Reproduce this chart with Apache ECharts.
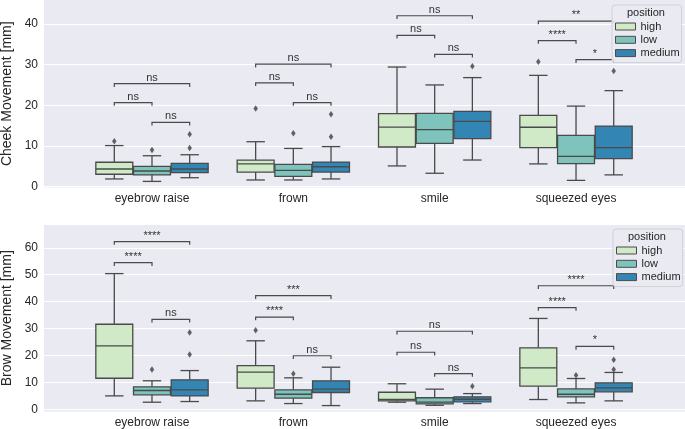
<!DOCTYPE html>
<html><head><meta charset="utf-8">
<script src="https://cdn.jsdelivr.net/npm/echarts/dist/echarts.min.js"></script>
<style>html,body{margin:0;padding:0;background:#fff}#c{width:685px;height:429px}</style>
</head><body><div id="c"></div>
<script>
// ---------------- data ----------------
const categories = ['eyebrow raise', 'frown', 'smile', 'squeezed eyes'];
const hues = ['high', 'low', 'medium'];
const cheekTicks = [0, 10, 20, 30, 40];
const browTicks = [0, 10, 20, 30, 40, 50, 60];

// per category: [lower whisker, Q1, median, Q3, upper whisker]
const cheekHigh   = [[1.9, 3.05, 4.35, 6.0, 10.1], [1.65, 3.6, 5.6, 6.55, 11.05], [5.1, 9.75, 14.65, 17.95, 29.4], [5.6, 9.6, 14.6, 17.5, 27.35]];
const cheekLow    = [[1.3, 2.9, 3.85, 5.0, 7.6], [1.65, 2.55, 4.0, 5.5, 9.4], [3.3, 10.65, 14.0, 18.0, 25.0], [1.55, 5.65, 7.45, 12.6, 19.8]];
const cheekMedium = [[2.2, 3.45, 4.35, 5.75, 7.85], [1.9, 3.6, 4.9, 6.05, 9.85], [6.55, 11.8, 16.05, 18.5, 26.8], [2.9, 6.9, 9.6, 14.9, 23.6]];
// outliers: [category index, value]
const cheekHighOut   = [[0, 11.15], [1, 19.2], [3, 30.7]];
const cheekLowOut    = [[0, 9.0], [1, 13.1]];
const cheekMediumOut = [[0, 12.9], [0, 9.5], [1, 17.8], [1, 12.3], [2, 29.6], [3, 28.4]];

const browHigh   = [[5.0, 11.55, 23.6, 31.6, 50.4], [3.15, 7.85, 13.8, 16.2, 25.45], [2.65, 3.15, 3.65, 6.35, 9.5], [3.65, 8.6, 15.4, 22.85, 33.75]];
const browLow    = [[2.65, 5.4, 7.0, 8.35, 10.6], [2.15, 4.15, 5.6, 7.25, 11.7], [1.5, 2.05, 2.65, 4.3, 7.5], [2.4, 4.65, 5.6, 7.6, 11.45]];
const browMedium = [[2.9, 5.0, 7.25, 10.95, 14.4], [1.4, 6.25, 7.5, 10.6, 15.65], [2.15, 2.8, 3.75, 4.65, 5.85], [3.15, 6.5, 8.0, 9.85, 13.7]];
const browHighOut   = [[1, 29.4]];
const browLowOut    = [[0, 14.8], [1, 13.2], [3, 12.7]];
const browMediumOut = [[0, 28.55], [0, 20.4], [2, 8.6], [3, 18.4], [3, 14.8]];

// significance brackets: [category, hue A, hue B, level, label]
const cheekBrackets = [
  [0, 0, 1, 20.65, 'ns'], [0, 1, 2, 15.8, 'ns'], [0, 0, 2, 25.3, 'ns'],
  [1, 0, 1, 25.5, 'ns'], [1, 1, 2, 20.65, 'ns'], [1, 0, 2, 30.1, 'ns'],
  [2, 0, 1, 37.2, 'ns'], [2, 1, 2, 32.5, 'ns'], [2, 0, 2, 42.0, 'ns'],
  [3, 0, 1, 35.9, '****'], [3, 1, 2, 31.2, '*'], [3, 0, 2, 40.7, '**']
];
const browBrackets = [
  [0, 0, 1, 54.45, '****'], [0, 1, 2, 33.4, 'ns'], [0, 0, 2, 62.3, '****'],
  [1, 0, 1, 34.25, '****'], [1, 1, 2, 19.9, 'ns'], [1, 0, 2, 42.2, '***'],
  [2, 0, 1, 21.2, 'ns'], [2, 1, 2, 13.3, 'ns'], [2, 0, 2, 29.0, 'ns'],
  [3, 0, 1, 37.8, '****'], [3, 1, 2, 23.35, '*'], [3, 0, 2, 45.9, '****']
];

// ---------------- style ----------------
const FONT = 'Liberation Sans, Arial, sans-serif';
const hueColors = ['#d0e9c7', '#7ec4bd', '#3386b3'];
const LINE = '#4a4a4a';
const LW = 1.3;
const BG = '#eaeaf2';
const TXT = '#262626';
const HUE_W = 0.8 / 3;
const TICK = 3.2;

function boxRender(h) {
  return function (params, api) {
    const x = api.value(0) + (h - 1) * HUE_W;
    const lo = api.coord([x, api.value(1)]);
    const q1 = api.coord([x, api.value(2)]);
    const md = api.coord([x, api.value(3)]);
    const q3 = api.coord([x, api.value(4)]);
    const hi = api.coord([x, api.value(5)]);
    const w = api.size([HUE_W * 0.98, 0])[0];
    const cx = lo[0];
    const ls = { stroke: LINE, lineWidth: LW };
    return {
      type: 'group', children: [
        { type: 'line', shape: { x1: cx, y1: q1[1], x2: cx, y2: lo[1] }, style: ls },
        { type: 'line', shape: { x1: cx, y1: q3[1], x2: cx, y2: hi[1] }, style: ls },
        { type: 'line', shape: { x1: cx - w / 4, y1: lo[1], x2: cx + w / 4, y2: lo[1] }, style: ls },
        { type: 'line', shape: { x1: cx - w / 4, y1: hi[1], x2: cx + w / 4, y2: hi[1] }, style: ls },
        { type: 'rect', shape: { x: cx - w / 2, y: q3[1], width: w, height: q1[1] - q3[1] }, style: { fill: hueColors[h], stroke: LINE, lineWidth: LW } },
        { type: 'line', shape: { x1: cx - w / 2, y1: md[1], x2: cx + w / 2, y2: md[1] }, style: ls }
      ]
    };
  };
}

function bracketRender(list) {
  return function (params, api) {
    const b = list[params.dataIndex];
    const pa = api.coord([b[0] + (b[1] - 1) * HUE_W, b[3]]);
    const pb = api.coord([b[0] + (b[2] - 1) * HUE_W, b[3]]);
    return {
      type: 'group', children: [
        { type: 'polyline', shape: { points: [[pa[0], pa[1] + TICK], [pa[0], pa[1]], [pb[0], pb[1]], [pb[0], pb[1] + TICK]] }, style: { stroke: LINE, lineWidth: 1.2, fill: null } },
        { type: 'text', x: (pa[0] + pb[0]) / 2, y: pa[1] - 0.5, style: { text: b[4], fill: '#333', font: '11px ' + FONT, textAlign: 'center', textVerticalAlign: 'bottom' } }
      ]
    };
  };
}

const panels = [
  { stats: [cheekHigh, cheekLow, cheekMedium], outs: [cheekHighOut, cheekLowOut, cheekMediumOut], brackets: cheekBrackets },
  { stats: [browHigh, browLow, browMedium], outs: [browHighOut, browLowOut, browMediumOut], brackets: browBrackets }
];

const series = [];
panels.forEach((p, pi) => {
  hues.forEach((name, h) => {
    series.push({
      type: 'custom', name: name, xAxisIndex: pi, yAxisIndex: pi, z: 3,
      itemStyle: { color: hueColors[h] },
      renderItem: boxRender(h),
      encode: { x: 0, y: [1, 2, 3, 4, 5] },
      data: p.stats[h].map((s, i) => [i].concat(s))
    });
    series.push({
      type: 'scatter', name: name + ' outliers', xAxisIndex: pi, yAxisIndex: pi, z: 4,
      symbol: 'diamond', symbolSize: [4.5, 6.5],
      itemStyle: { color: '#3d3d3d' },
      data: p.outs[h].map(o => [o[0] + (h - 1) * HUE_W, o[1]])
    });
  });
  series.push({
    type: 'custom', name: 'brackets' + pi, xAxisIndex: pi, yAxisIndex: pi, z: 3,
    renderItem: bracketRender(p.brackets),
    encode: { x: 0, y: 3 },
    data: p.brackets.map(b => [b[0], b[1], b[2], b[3]])
  });
});

const XMIN = -0.764, XMAX = 3.771;
function xAxisFor(gi) {
  return {
    gridIndex: gi, type: 'value', min: XMIN, max: XMAX,
    axisLine: { show: false }, axisTick: { show: false, customValues: [0, 1, 2, 3] }, splitLine: { show: false },
    axisLabel: { customValues: [0, 1, 2, 3], formatter: v => categories[Math.round(v)], fontSize: 12, color: TXT, fontFamily: FONT, margin: 5 }
  };
}
function yAxisFor(gi, min, max, ticks, name) {
  return {
    gridIndex: gi, type: 'value', min: min, max: max,
    name: name, nameLocation: 'middle', nameGap: 22,
    nameTextStyle: { fontSize: 14, color: TXT, fontFamily: FONT },
    axisLine: { show: false }, axisTick: { show: false, customValues: ticks },
    axisLabel: { customValues: ticks, fontSize: 12, color: TXT, fontFamily: FONT, margin: 6 },
    splitLine: { show: true, lineStyle: { color: '#ffffff', width: 1.2 } }
  };
}
function legendFor(top, left) {
  return {
    orient: 'vertical', left: left, top: top, z: 20,
    data: hues.map((n, h) => ({ name: n, icon: 'rect', itemStyle: { color: hueColors[h], borderColor: LINE, borderWidth: 1 } })),
    itemWidth: 20, itemHeight: 7, itemGap: 2.3,
    padding: [16, 2, 4, 3],
    backgroundColor: 'rgba(234,234,242,0.9)', borderColor: '#d0d0d8', borderWidth: 1, borderRadius: 3,
    textStyle: { fontSize: 11, lineHeight: 11, color: TXT, fontFamily: FONT },
    selectedMode: false
  };
}

const chart = echarts.init(document.getElementById('c'));
chart.setOption({
  animation: false,
  backgroundColor: '#ffffff',
  grid: [
    { left: 44, right: 0, top: 0, height: 187.5, backgroundColor: BG, show: true, borderWidth: 0, containLabel: false, outerBoundsMode: 'none' },
    { left: 44, right: 0, top: 225, height: 186.5, backgroundColor: BG, show: true, borderWidth: 0, containLabel: false, outerBoundsMode: 'none' }
  ],
  xAxis: [xAxisFor(0), xAxisFor(1)],
  yAxis: [yAxisFor(0, -0.2, 45.87, cheekTicks, 'Cheek Movement [mm]'), yAxisFor(1, -0.8, 68.45, browTicks, 'Brow Movement [mm]')],
  legend: [legendFor(5, 612), legendFor(229, 613)],
  graphic: [
    { type: 'text', z: 100, left: 627, top: 7, style: { text: 'position', font: '11px ' + FONT, fill: TXT } },
    { type: 'text', z: 100, left: 628, top: 231, style: { text: 'position', font: '11px ' + FONT, fill: TXT } }
  ],
  series: series
});
</script>
</body></html>
